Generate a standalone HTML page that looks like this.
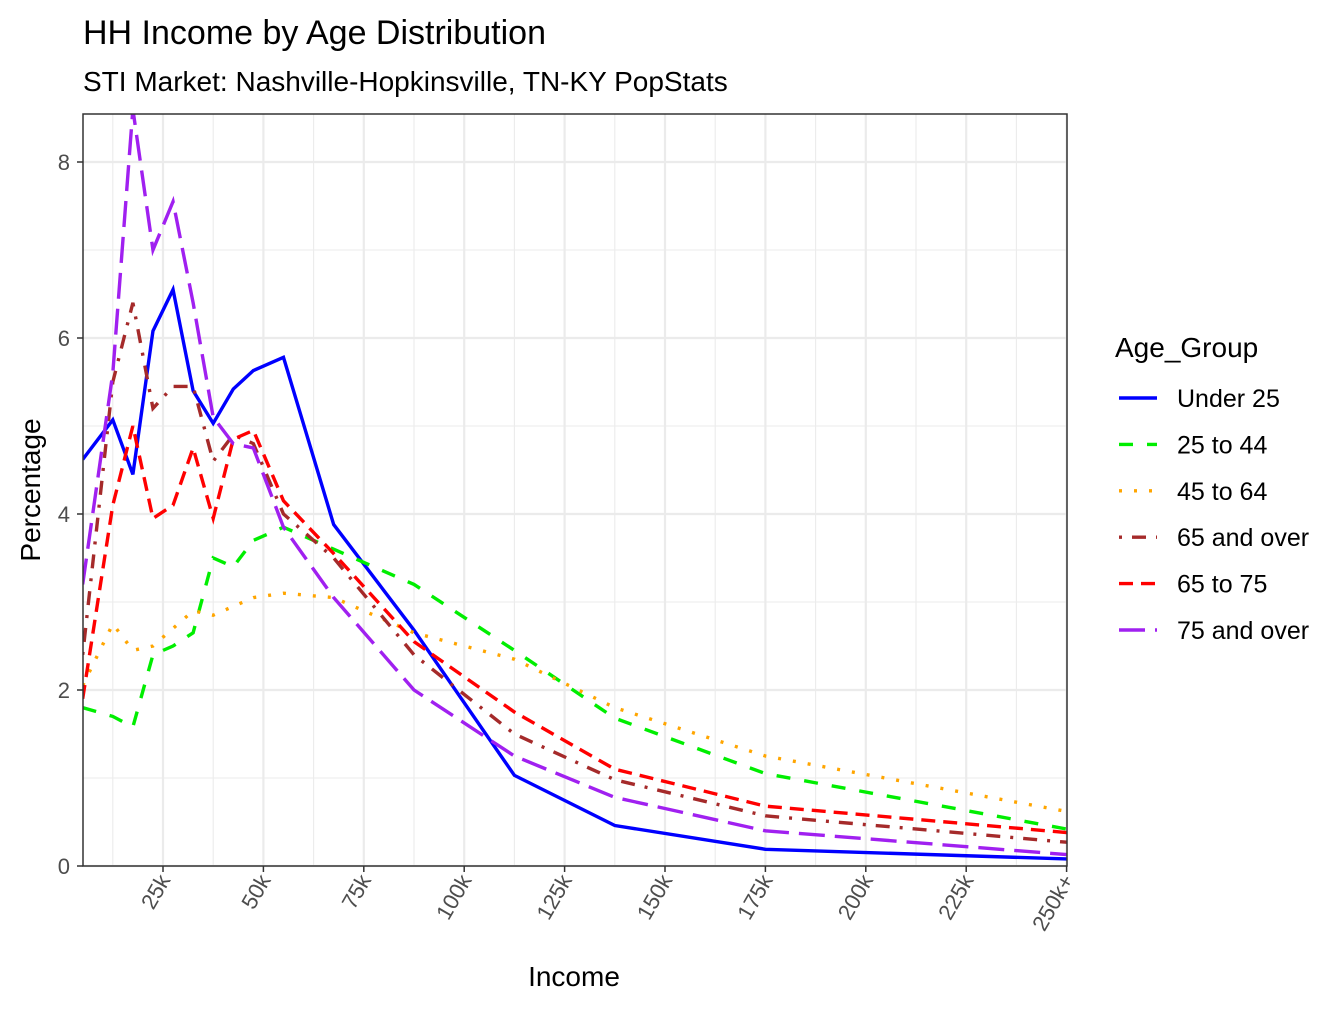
<!DOCTYPE html>
<html><head><meta charset="utf-8"><style>
body{margin:0;background:#fff;font-family:"Liberation Sans",sans-serif}
svg text{font-family:"Liberation Sans",sans-serif}
</style></head><body>
<svg id="chart" width="1344" height="1008">
<text x="83" y="44" font-size="34" fill="#000">HH Income by Age Distribution</text>
<text x="83" y="91" font-size="28" fill="#000">STI Market: Nashville-Hopkinsville, TN-KY PopStats</text>
<g id="grid"></g>
<g id="series"></g>
<rect x="83" y="114" width="984" height="752" fill="none" stroke="#333" stroke-width="1.5"/>
<g id="axes"></g>
<text x="574" y="986" font-size="28" text-anchor="middle">Income</text>
<text transform="translate(40,490) rotate(-90)" font-size="28" text-anchor="middle">Percentage</text>
<text x="1115" y="357" font-size="28">Age_Group</text>
<g id="legend"></g>
</svg>
<script>
const incomes=[5,12.5,17.5,22.5,27.5,32.5,37.5,42.5,47.5,55,67.5,87.5,112.5,137.5,175,250];
const under25=[4.62,5.07,4.45,6.08,6.55,5.4,5.03,5.42,5.63,5.78,3.88,2.68,1.03,0.46,0.19,0.08];
const age25to44=[1.8,1.7,1.58,2.4,2.5,2.65,3.5,3.4,3.7,3.85,3.6,3.2,2.45,1.68,1.05,0.42];
const age45to64=[2.05,2.75,2.45,2.5,2.7,2.9,2.85,2.95,3.05,3.1,3.05,2.65,2.35,1.8,1.25,0.62];
const age65plus=[2.4,5.5,6.4,5.2,5.45,5.45,4.6,4.9,4.8,4.0,3.5,2.4,1.5,0.98,0.57,0.27];
const age65to75=[1.9,4.1,5.0,3.95,4.1,4.75,3.95,4.85,4.95,4.15,3.55,2.55,1.75,1.1,0.68,0.38];
const age75plus=[3.2,5.6,8.6,7.0,7.55,6.4,5.1,4.8,4.75,3.85,3.05,2.0,1.25,0.78,0.4,0.13];
const seriesNames=["Under 25","25 to 44","45 to 64","65 and over","65 to 75","75 and over"];
const xTicks=[25,50,75,100,125,150,175,200,225,250];
const xTickLabels=["25k","50k","75k","100k","125k","150k","175k","200k","225k","250k+"];
const yTicks=[0,2,4,6,8];

const NS="http://www.w3.org/2000/svg";
const X=v=>62.6+v*4.016;
const Y=v=>866-v*88;
function mk(t,a,p){const e=document.createElementNS(NS,t);for(const k in a)e.setAttribute(k,a[k]);p.appendChild(e);return e;}
const grid=document.getElementById('grid'),axes=document.getElementById('axes'),ser=document.getElementById('series'),leg=document.getElementById('legend');
for(let v=12.5;v<=250;v+=12.5){const major=Math.abs(v/25-Math.round(v/25))<1e-9;
 const l=mk('line',{x1:X(v),x2:X(v),y1:114,y2:866,stroke:'#ebebeb','stroke-width':major?2.2:1.1},grid);
 
 }
for(let v=0;v<=8.5;v+=1){const l=mk('line',{x1:83,x2:1067,y1:Y(v),y2:Y(v),stroke:'#ebebeb','stroke-width':v%2==0?2.2:1.1},grid);
 
 }
yTicks.forEach(v=>{mk('line',{x1:77,x2:83,y1:Y(v),y2:Y(v),stroke:'#333','stroke-width':1.5},axes);
 const t=mk('text',{x:70,y:Y(v)+8,'font-size':22,fill:'#4d4d4d','text-anchor':'end'},axes);t.textContent=v;
 
 });
xTicks.forEach((v,i)=>{mk('line',{x1:X(v),x2:X(v),y1:866,y2:872,stroke:'#333','stroke-width':1.5},axes);
 const t=mk('text',{transform:`translate(${X(v)+8},${880}) rotate(-60)`,'font-size':22,fill:'#4d4d4d','text-anchor':'end'},axes);t.textContent=xTickLabels[i];
 
 });
const defs=[[under25,'#0000ff',''],[age25to44,'#00ee00','14,14'],[age45to64,'#ffa500','3,12'],[age65plus,'#a52a2a','3,10,14,10'],[age65to75,'#ff0000','14,8'],[age75plus,'#a020f0','26,10']];
const cp=mk('clipPath',{id:'clip'},document.getElementById('chart'));mk('rect',{x:83,y:114,width:984,height:752},cp);
defs.forEach((d,i)=>{const pts=d[0].map((v,j)=>X(incomes[j])+','+Y(v)).join(' ');
 const p=mk('polyline',{points:pts,fill:'none',stroke:d[1],'stroke-width':3.4,'stroke-dasharray':d[2],'clip-path':'url(#clip)'},ser);
 
 
 const y=398+i*46.4;
 const l=mk('line',{x1:1119,x2:1157,y1:y,y2:y,stroke:d[1],'stroke-width':3.4,'stroke-dasharray':d[2]},leg);
 
 
 const t=mk('text',{x:1177,y:y+9,'font-size':25},leg);t.textContent=seriesNames[i];
 
 });
</script>
</body></html>
